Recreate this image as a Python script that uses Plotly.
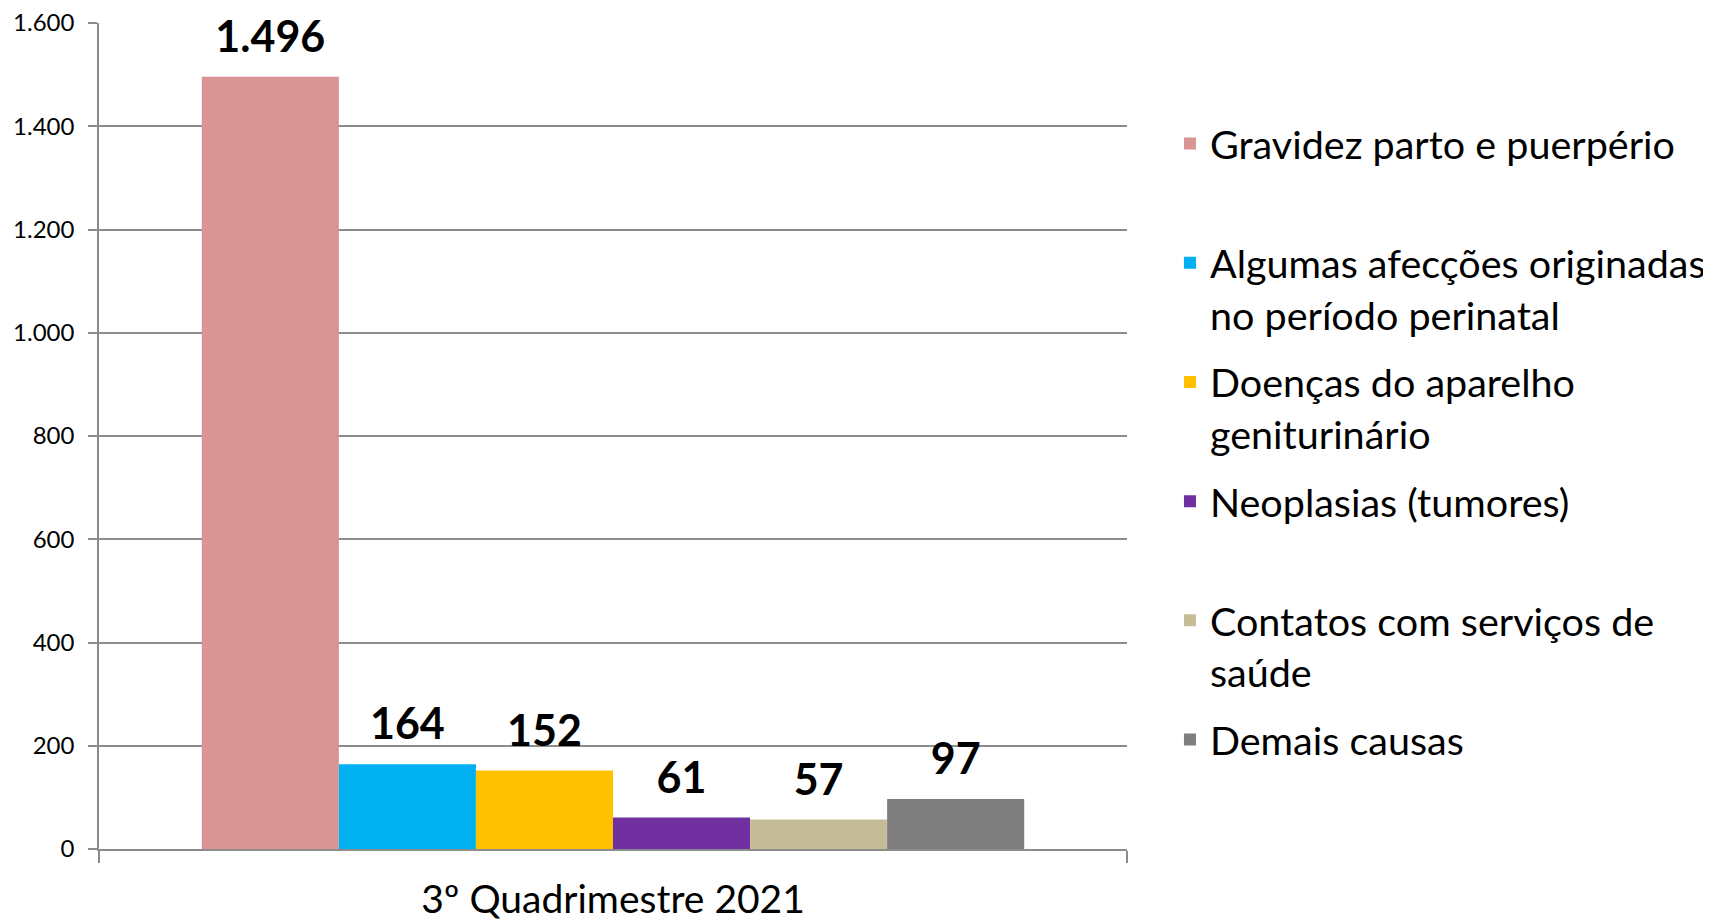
import plotly.graph_objects as go

# ---- data ----
categoria = ["3º Quadrimestre 2021"]
causas = [
    "Gravidez parto e puerpério",
    "Algumas afecções originadas no período perinatal",
    "Doenças do aparelho geniturinário",
    "Neoplasias (tumores)",
    "Contatos com serviços de saúde",
    "Demais causas",
]
rotulos_legenda = [
    "Gravidez parto e puerpério<br>\u00a0",
    "Algumas afecções originadas<br>no período perinatal",
    "Doenças do aparelho<br>geniturinário",
    "Neoplasias (tumores)<br>\u00a0",
    "Contatos com serviços de<br>saúde",
    "Demais causas<br>\u00a0",
]
valores = [1496, 164, 152, 61, 57, 97]
cores = ["#D99594", "#00B0F0", "#FFC000", "#7030A0", "#C4BD97", "#7F7F7F"]
y_ticks = [0, 200, 400, 600, 800, 1000, 1200, 1400, 1600]

# page body has an 8px margin, so the figure is made 8px smaller
W, H = 1703, 913
PL, PT, PR, PB = 99 - 8, 23 - 8, 1127 - 8, 849 - 8   # plot area inside the figure
FONT = "Lato, 'Open Sans', sans-serif"
GRID = "#8C8C8C"

fig = go.Figure()
for i, (nome, rot, v, c) in enumerate(zip(causas, rotulos_legenda, valores, cores)):
    fig.add_trace(go.Bar(
        x=categoria, y=[v], name=rot, legendgroup=f"g{i}",
        marker=dict(color=c, line=dict(width=0)),
        hovertext=nome,
    ))
# value labels, placed above each bar (grouped like the bars)
for i, v in enumerate(valores):
    fig.add_trace(go.Scatter(
        x=categoria, y=[v], mode="markers+text",
        text=[f"{v:,}".replace(",", ".")], textposition="top center",
        textfont=dict(family=FONT, size=43, color="black", weight="bold"),
        marker=dict(size=21, opacity=0, color="white"),
        showlegend=False, hoverinfo="skip", cliponaxis=False,
    ))

fig.update_layout(
    width=W, height=H,
    margin=dict(l=PL, r=W - PR, t=PT, b=H - PB, autoexpand=False),
    paper_bgcolor="white", plot_bgcolor="white",
    font=dict(family=FONT, color="black"),
    separators=",.",
    barmode="group", bargap=0.2, bargroupgap=0,
    scattermode="group", scattergap=0.2,
    showlegend=True,
    legend=dict(
        x=1.0418, xanchor="left", y=0.893, yanchor="top",
        valign="top", traceorder="grouped", tracegroupgap=13.5,
        font=dict(family=FONT, size=39.5, color="black"),
        bgcolor="rgba(0,0,0,0)",
    ),
    xaxis=dict(
        type="category", range=[-0.5, 0.5], tickson="boundaries",
        ticks="outside", ticklen=12, tickcolor=GRID, tickwidth=1.5,
        showline=True, linecolor=GRID, linewidth=1.5, showgrid=False,
        tickfont=dict(family=FONT, size=39, color="black"),
        ticklabelstandoff=15,
    ),
    yaxis=dict(
        range=[0, 1600], tickmode="array", tickvals=y_ticks, tickformat=",d",
        showgrid=True, gridcolor=GRID, gridwidth=1.5,
        showline=True, linecolor=GRID, linewidth=1.5,
        ticks="outside", ticklen=9, tickcolor=GRID, tickwidth=1.5,
        zeroline=False, ticklabeloverflow="allow",
        tickfont=dict(family=FONT, size=24, color="black"),
        ticklabelstandoff=9,
    ),
)

fig.write_html("out.html")
